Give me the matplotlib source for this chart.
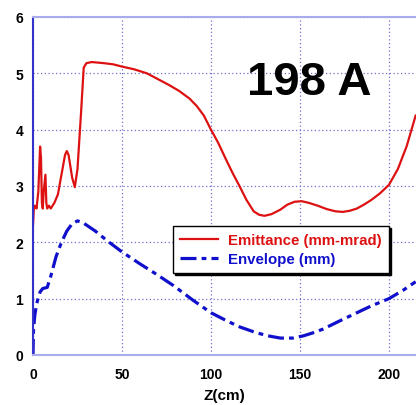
import matplotlib
matplotlib.use('Agg')
import matplotlib.pyplot as plt

plt.rcParams['font.family'] = ['Liberation Sans', 'DejaVu Sans']
plt.rcParams['font.weight'] = 'bold'

# Emittance (mm-mrad)
emit_z = [0, 0.5, 1, 2, 3, 4, 4.5, 5, 5.5, 6, 7, 7.5, 8, 9, 10, 12, 14, 16, 18, 19,
          20, 22, 23.5, 25, 27, 28.5, 30, 33, 40, 45, 50, 57, 64, 70, 76, 82, 88, 92,
          96, 100, 104, 108, 112, 116, 120, 124, 127, 130, 134, 139, 143, 147, 151,
          155, 160, 165, 170, 174, 178, 182, 186, 190, 195, 200, 205, 210, 215]
emit_val = [2.3, 2.6, 2.65, 2.6, 2.9, 3.7, 3.5, 2.7, 2.6, 2.9, 3.2, 2.7, 2.6, 2.65, 2.6,
            2.7, 2.85, 3.2, 3.55, 3.62, 3.55, 3.15, 2.98, 3.3, 4.3, 5.1, 5.18, 5.2, 5.18,
            5.16, 5.12, 5.07, 5.0, 4.9, 4.8, 4.69, 4.55, 4.42, 4.25, 4.0, 3.77, 3.5,
            3.24, 3.0, 2.75, 2.55, 2.49, 2.47, 2.5, 2.58, 2.67, 2.72, 2.73, 2.7, 2.65,
            2.59, 2.55, 2.54, 2.56, 2.6, 2.67, 2.75, 2.87, 3.02, 3.3, 3.71, 4.25]

# Envelope (mm)
env_z = [0, 0.3, 1, 2, 3, 4, 5.5, 8, 10, 13, 16, 19, 22, 25, 28, 35, 42, 50, 60, 70,
         79, 90, 100, 108, 116, 125, 132, 139, 146, 152, 158, 163, 172, 182, 190, 200,
         208, 215]
env_val = [0, 0.45, 0.7, 0.9, 1.02, 1.12, 1.18, 1.2, 1.4, 1.75, 2.0, 2.2, 2.33, 2.38,
           2.35, 2.2, 2.02, 1.83, 1.62, 1.42, 1.23, 0.97, 0.75, 0.62, 0.5, 0.4, 0.34,
           0.3, 0.3, 0.34, 0.4, 0.46, 0.6, 0.75, 0.87, 1.0, 1.15, 1.3]

fig = plt.figure(figsize=(4.16, 4.06), dpi=100)
ax = fig.add_axes([0.0793, 0.1232, 0.9207, 0.8325])

ax.plot(emit_z, emit_val, color='#dd1111', lw=1.6, label='Emittance (mm-mrad)')
ax.plot(env_z, env_val, color='#1010cc', lw=2.3, dashes=(5, 1.6, 1.5, 1.6),
        label='Envelope (mm)')

ax.set_xlim(0, 215.2)
ax.set_ylim(0, 6)
ax.set_xticks([0, 50, 100, 150, 200])
ax.set_yticks([0, 1, 2, 3, 4, 5, 6])
ax.tick_params(length=0, labelsize=10)
ax.tick_params(axis='x', pad=9)
ax.tick_params(axis='y', pad=7)
ax.grid(True, color='#7070d0', linestyle=(0, (1, 2)), lw=0.9)

ax.spines['right'].set_visible(False)
ax.spines['top'].set_color('#aaaaee')
ax.spines['bottom'].set_color('#aaaaee')
ax.spines['left'].set_color('#3333cc')
for s in ['top', 'bottom', 'left']:
    ax.spines[s].set_linewidth(1.5)

ax.set_xlabel('Z(cm)', fontsize=11, fontweight='bold', labelpad=5)

ax.text(155.5, 4.85, '198 A', fontsize=34, fontweight='bold', ha='center', va='center')

leg = ax.legend(loc='upper left', bbox_to_anchor=(0.365, 0.382), borderaxespad=0,
                fontsize=10.8, handlelength=2.5, handletextpad=0.7, frameon=True,
                fancybox=False, shadow={'ox': 1.5, 'oy': -1.5, 'color': 'black', 'alpha': 1},
                borderpad=0.5, labelspacing=0.3)
leg.get_frame().set_edgecolor('black')
leg.get_frame().set_linewidth(1.0)
for t, c in zip(leg.get_texts(), ['#dd1111', '#1010cc']):
    t.set_color(c)
    t.set_fontweight('bold')

fig.savefig('out.png', dpi=100)
